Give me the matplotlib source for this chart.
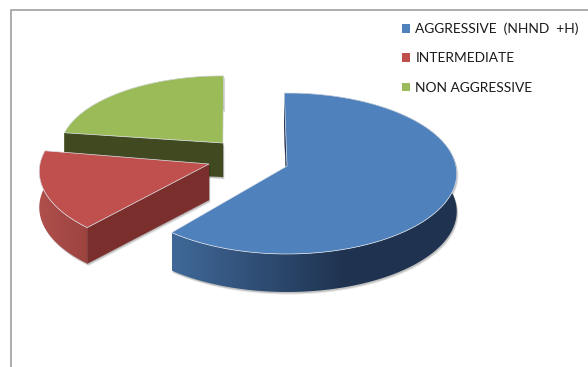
import numpy as np
import matplotlib
matplotlib.use("Agg")
import matplotlib.pyplot as plt
from matplotlib.colors import LinearSegmentedColormap
from matplotlib.patches import Polygon, Patch
from matplotlib.lines import Line2D

# Data
categories = ["AGGRESSIVE  (NHND  +H)", "INTERMEDIATE", "NON AGGRESSIVE"]
shares = [61.2, 16.0, 22.8]

# Style
top_colors = ["#4f81bd", "#c0504d", "#9bbb59"]
cut_colors = ["#1f3350", "#7a2f2d", "#40491f"]
wall_light = ["#3f6898", "#b04f4c", "#6d8a3c"]
wall_dark = ["#1f3350", "#9c4340", "#40491f"]
grad_span = [(173, 345), (40, 88), (65, 224)]
apex_x = [287, 209, 223]
apex_y = [166, 164, 143]
scale_x = [1.0, 1.0, 0.96]
scale_y = [1.0, 1.0, 0.92]
depth = [38, 36, 34]
rot_deg = [0.0, 2.8, 1.2]
start_deg = -1.0
R_X, R_Y, PERSP = 169.0, 79.8, 0.093

plt.rcParams["font.family"] = ["Lato", "DejaVu Sans"]
fig = plt.figure(figsize=(5.88, 3.67), dpi=100, facecolor="white")
ax = fig.add_axes([0, 0, 1, 1])
ax.axis("off")

# Chart frame (open at bottom and right, as cropped in the reference)
ax.add_line(Line2D([10.5, 10.5, 588], [367, 9.5, 9.5], color="#a6a6a6", lw=1.3, zorder=1))


def project(theta, ax_x, ax_y, sx, sy):
    """theta: clockwise from 12 o'clock, radians; perspective-foreshortened disc."""
    u, v = np.sin(theta), np.cos(theta)
    s = 1.0 / (1.0 + PERSP * v)
    return ax_x + sx * R_X * u * s, ax_y - sy * R_Y * v * s


edges = start_deg + 360 * np.cumsum([0] + shares) / np.sum(shares)
draw_order = [2, 1, 0]
for rank, i in enumerate(draw_order):
    base = 10 + rank * 10
    th = np.radians(np.linspace(edges[i], edges[i + 1], 240) + rot_deg[i])
    X, Y = project(th, apex_x[i], apex_y[i], scale_x[i], scale_y[i])
    d = depth[i]
    cx, cy = apex_x[i], apex_y[i]
    top_xy = np.vstack([[cx, cy], np.column_stack([X, Y])])
    outline = np.vstack([np.column_stack([X, Y]), np.column_stack([X, Y + d])[::-1]])
    cut_xy = [[cx, cy], [X[0], Y[0]], [X[0], Y[0] + d], [cx, cy + d]]

    # soft shadow below the body
    for poly in (outline, np.array(cut_xy)):
        for off, al in ((2.5, 0.10), (1.5, 0.16)):
            ax.add_patch(Polygon(poly + [off * 0.6, off], closed=True, fc="#000000",
                                 ec="none", alpha=al, zorder=base))

    # outer curved wall with a horizontal colour ramp
    x0, x1 = grad_span[i]
    cmap = LinearSegmentedColormap.from_list("w", [wall_light[i], wall_dark[i]])
    xs = np.linspace(X.min(), X.max(), 256)
    ramp = np.clip((xs - x0) / (x1 - x0), 0, 1)[None, :]
    im = ax.imshow(ramp, cmap=cmap, vmin=0, vmax=1, aspect="auto", interpolation="bilinear",
                   extent=[X.min(), X.max(), (Y + d).max(), Y.min()], zorder=base + 1)
    im.set_clip_path(Polygon(outline, closed=True, transform=ax.transData))

    # visible cut wall (the radial edge at the start of each slice)
    ax.add_patch(Polygon(cut_xy, closed=True, fc=cut_colors[i], ec=cut_colors[i], lw=0.3,
                         zorder=base + 2))

    # top face with a thin pale bevel
    ax.add_patch(Polygon(top_xy, closed=True, fc=top_colors[i], ec="#dfe3ea", lw=0.5,
                         joinstyle="round", zorder=base + 3))

ax.set_xlim(0, 588)
ax.set_ylim(367, 0)

handles = [Patch(fc=c, ec="none") for c in top_colors]
leg = ax.legend(handles, categories, loc="upper left", bbox_to_anchor=(402 / 588, 1 - 22.5 / 367),
                frameon=False, fontsize=9.95, handlelength=0.6, handleheight=0.6,
                handletextpad=0.36, labelspacing=1.26, borderpad=0, borderaxespad=0)
for t in leg.get_texts():
    t.set_color("#1a1a1a")

fig.savefig("out.png", dpi=100, facecolor="white")
